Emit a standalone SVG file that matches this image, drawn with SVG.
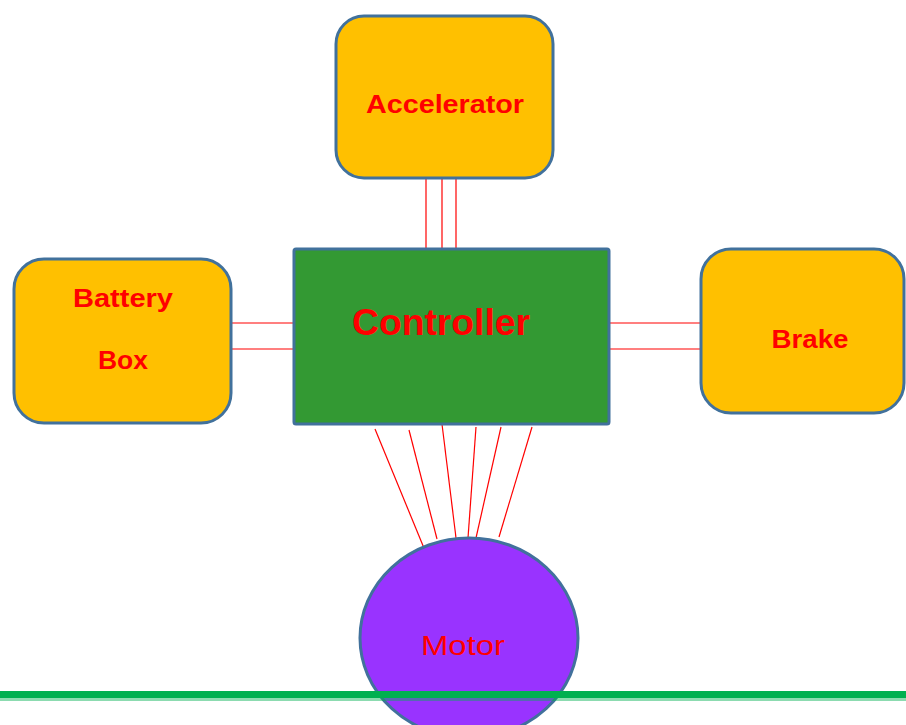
<svg xmlns="http://www.w3.org/2000/svg" width="906" height="725" viewBox="0 0 906 725">
<style>
.box{fill:#FFC000;stroke:#41719C;stroke-width:3}
.wire{stroke:#FF0000;stroke-width:1.2;fill:none}
.lbl{font-family:"Liberation Sans",Arial,sans-serif;font-weight:bold;fill:#FF0000;text-anchor:middle}
</style>
<rect width="906" height="725" fill="#FFFFFF"/>
<g id="connectors">
<line class="wire" x1="426" y1="179" x2="426" y2="248"/>
<line class="wire" x1="442" y1="179" x2="442" y2="248"/>
<line class="wire" x1="456" y1="179" x2="456" y2="248"/>
<line class="wire" x1="232" y1="323" x2="293" y2="323"/>
<line class="wire" x1="232" y1="349" x2="293" y2="349"/>
<line class="wire" x1="609" y1="323" x2="700" y2="323"/>
<line class="wire" x1="609" y1="349" x2="700" y2="349"/>
<line class="wire" x1="375" y1="429" x2="426" y2="553"/>
<line class="wire" x1="409" y1="430" x2="437" y2="539"/>
<line class="wire" x1="442" y1="424" x2="456" y2="538"/>
<line class="wire" x1="476" y1="427" x2="468" y2="538"/>
<line class="wire" x1="501" y1="427" x2="476" y2="538"/>
<line class="wire" x1="532" y1="427" x2="499" y2="537"/>
</g>
<g id="accelerator">
<rect class="box" x="336" y="16" width="217" height="162" rx="28"/>
<text class="lbl" x="445" y="113" font-size="26" textLength="158" lengthAdjust="spacingAndGlyphs">Accelerator</text>
</g>
<g id="battery">
<rect class="box" x="14" y="259" width="217" height="164" rx="30"/>
<text class="lbl" x="123" y="307" font-size="26" textLength="100" lengthAdjust="spacingAndGlyphs">Battery</text>
<text class="lbl" x="123" y="369" font-size="26" textLength="50" lengthAdjust="spacingAndGlyphs">Box</text>
</g>
<g id="brake">
<rect class="box" x="701" y="249" width="203" height="164" rx="30"/>
<text class="lbl" x="810" y="348" font-size="26" textLength="77" lengthAdjust="spacingAndGlyphs">Brake</text>
</g>
<g id="controller">
<rect x="294" y="249" width="315" height="175" rx="2" fill="#339933" stroke="#41719C" stroke-width="3"/>
<text class="lbl" x="441" y="335" font-size="36" textLength="178" lengthAdjust="spacingAndGlyphs">Controller</text>
</g>
<g id="motor">
<ellipse cx="469" cy="638" rx="109" ry="100" fill="#9933FF" stroke="#41719C" stroke-width="3"/>
<text x="463" y="655" font-family="Liberation Sans,Arial,sans-serif" font-size="27" fill="#FF0000" text-anchor="middle" textLength="84" lengthAdjust="spacingAndGlyphs">Motor</text>
</g>
<rect x="0" y="691" width="906" height="7" fill="#00B050"/>
<rect x="0" y="698" width="906" height="3" fill="#00B050" opacity="0.45"/>
</svg>
